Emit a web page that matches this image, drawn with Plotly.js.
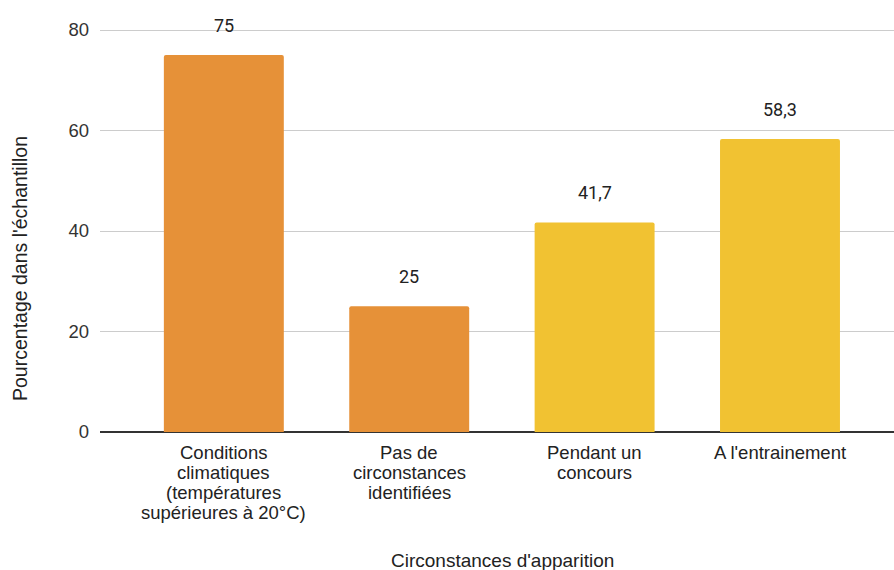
<!DOCTYPE html>
<html>
<head>
<meta charset="utf-8">
<script src="https://cdn.plot.ly/plotly-3.0.1.min.js"></script>
<style>html,body{margin:0;padding:0;background:#fff;}#chart{width:894px;height:570px;}</style>
</head>
<body>
<div id="chart"></div>
<script>
// Data
const categories = ["cond", "pas", "concours", "entrainement"];
const categoryLabels = [
  ["Conditions", "climatiques", "(températures", "supérieures à 20°C)"],
  ["Pas de", "circonstances", "identifiées"],
  ["Pendant un", "concours"],
  ["A l'entrainement"]
];
const values = [75, 25, 41.7, 58.3];
const barColors = ["#E69138", "#E69138", "#F1C232", "#F1C232"];
const yTicks = [0, 20, 40, 60, 80];
const xTitle = "Circonstances d'apparition";
const yTitle = "Pourcentage dans l'échantillon";

const trace = {
  type: "bar",
  x: categories,
  y: values,
  width: 0.647,
  marker: { color: barColors },
  hoverinfo: "skip"
};

const annotations = [];
categories.forEach((c, i) => {
  annotations.push({
    x: c, y: values[i], xref: "x", yref: "y",
    text: String(values[i]).replace(".", ","),
    showarrow: false, yshift: 30, yanchor: "middle",
    font: { family: "Roboto, sans-serif", size: 18, color: "#222" }
  });
  categoryLabels[i].forEach((line, j) => {
    annotations.push({
      x: c, y: 0, xref: "x", yref: "y",
      text: line, showarrow: false, yanchor: "middle",
      yshift: -(20 + 20 * j),
      font: { family: "Liberation Sans, Arial, sans-serif", size: 18.5, color: "#222" }
    });
  });
});
annotations.push({
  x: 502, y: 560, xref: "paper", yref: "paper", text: xTitle, showarrow: false,
  xanchor: "center", yanchor: "middle",
  font: { family: "Liberation Sans, Arial, sans-serif", size: 19, color: "#222" }
});
annotations.push({
  x: 20, y: 269, text: yTitle, showarrow: false, textangle: -90,
  xanchor: "center", yanchor: "middle",
  font: { family: "Liberation Sans, Arial, sans-serif", size: 19.5, color: "#222" }
});

// convert pixel positions of titles to paper coords
const W = 894, H = 570, L = 100, R = 0, T = 10, B = 138;
const pw = W - L - R, ph = H - T - B;
annotations.forEach(a => {
  if (a.xref === undefined || a.xref === "paper") {
    a.xref = "paper"; a.yref = "paper";
    a.x = (a.x - L) / pw;
    a.y = (H - B - a.y) / ph;
  }
});

const layout = {
  width: W, height: H,
  margin: { l: L, r: R, t: T, b: B },
  paper_bgcolor: "#fff", plot_bgcolor: "#fff",
  barcornerradius: 2,
  showlegend: false,
  xaxis: {
    range: [-0.668, 3.615],
    showticklabels: false, ticks: "",
    showgrid: false, zeroline: false, showline: false
  },
  yaxis: {
    range: [0, 83.98],
    tickvals: yTicks,
    ticktext: yTicks.map(String),
    ticks: "", ticklabelstandoff: 10,
    showgrid: true, gridcolor: "#cccccc", gridwidth: 1,
    zeroline: true, zerolinecolor: "#333333", zerolinewidth: 1.5,
    showline: false,
    tickfont: { family: "Liberation Sans, Arial, sans-serif", size: 18.5, color: "#333" }
  },
  annotations: annotations
};

Plotly.newPlot("chart", [trace], layout, { displayModeBar: false, staticPlot: true });
</script>
</body>
</html>
